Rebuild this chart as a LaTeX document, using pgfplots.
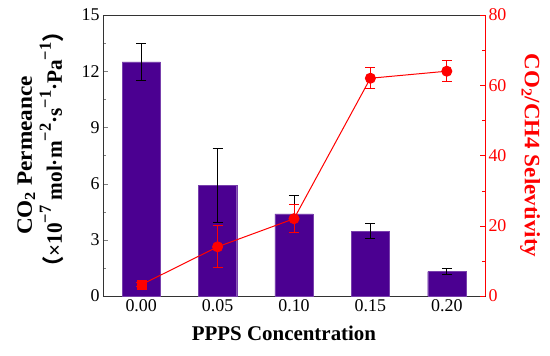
\documentclass[border=0pt]{standalone}
\usepackage{pgfplots}
\pgfplotsset{compat=1.18}
\usepackage{graphicx}
\usepackage{fontspec}
\setmainfont{Liberation Serif}
\newfontfamily\cjk{Noto Sans CJK SC}
\definecolor{barpurple}{HTML}{4B0091}
\newcommand\sups[1]{\raisebox{0.5em}{\fontsize{17}{17}\selectfont #1}}
\begin{document}
\begin{tikzpicture}
\path[use as bounding box] (-103bp,-60bp) rectangle (447bp,296bp);
\begin{axis}[
  scale only axis, width=382bp, height=281bp,
  xmin=-0.5, xmax=4.5, ymin=0, ymax=15,
  xtick={0,1,2,3,4}, xticklabels={0.00,0.05,0.10,0.15,0.20},
  ytick={0,3,...,15}, minor y tick num=1,
  xtick pos=bottom, ytick pos=left,
  major x tick style={draw=none},
  tick align=inside, major tick length=5bp, minor tick length=3bp,
  axis line style={black!80, line width=0.8bp},
  /pgf/number format/assume math mode=true,
  ticklabel style={font=\fontsize{18}{20}\selectfont},
  xlabel={\bfseries PPPS Concentration},
  xlabel style={font=\fontsize{21}{24}\selectfont, xshift=-10bp, yshift=-7bp},
  ylabel={\scalebox{1.06}[1]{\bfseries CO\textsubscript{2} Permeance}\\\hspace*{12bp}\scalebox{0.97}[1]{\bfseries{\cjk （}×10\sups{−7} mol·m\sups{−2}·s\sups{−1}·Pa\sups{−1}{\cjk ）}}},
  ylabel style={align=center, font=\fontsize{22}{30}\selectfont, at={(rel axis cs:-0.163,0.5)}, anchor=center},
]
\addplot[ybar, bar shift=0pt, bar width=0.5, fill=barpurple, draw=barpurple!75!white]
coordinates {(0,12.5) (1,5.9) (2,4.39) (3,3.45) (4,1.3)};
\addplot[draw=none, mark=none, forget plot,
  error bars/.cd, y dir=both, y explicit,
  error bar style={black, line width=1bp},
  error mark options={rotate=90, black, mark size=5bp, line width=1bp}]
coordinates {
  (0,12.5) +- (0,1.0)
  (1,5.9) +- (0,2.0)
  (2,4.39) +- (0,1.0)
  (3,3.45) +- (0,0.4)
  (4,1.3) +- (0,0.15)
};
\end{axis}
\begin{axis}[
  scale only axis, width=382bp, height=281bp,
  xmin=-0.5, xmax=4.5, ymin=0, ymax=80,
  axis y line*=right, axis x line=none,
  ytick={0,20,...,80}, minor y tick num=1,
  tick align=inside, major tick length=5bp, minor tick length=3bp,
  y axis line style={red, line width=0.8bp},
  every y tick/.style={red}, every minor y tick/.style={red},
  /pgf/number format/assume math mode=true,
  yticklabel style={red, font=\fontsize{18}{20}\selectfont},
  ylabel={\scalebox{1.05}[1]{\bfseries CO\textsubscript{2}/CH4 Selevtivity}},
  ylabel style={red, font=\fontsize{22}{24}\selectfont, at={(rel axis cs:1.118,0.5)}, anchor=center, rotate=180},
]
\addplot[red, line width=1bp, mark=*, mark size=5bp, mark indices={2,3,4,5},
  error bars/.cd, y dir=both, y explicit,
  error bar style={red, line width=1bp},
  error mark options={rotate=90, red, mark size=5bp, line width=1bp}]
coordinates {
  (0,3.2) +- (0,0.6)
  (1,14) +- (0,6)
  (2,22) +- (0,4)
  (3,62) +- (0,3)
  (4,64) +- (0,3)
};
\addplot[red, only marks, mark=square*, mark size=4.5bp] coordinates {(0,3.2)};
\end{axis}
\end{tikzpicture}
\end{document}
